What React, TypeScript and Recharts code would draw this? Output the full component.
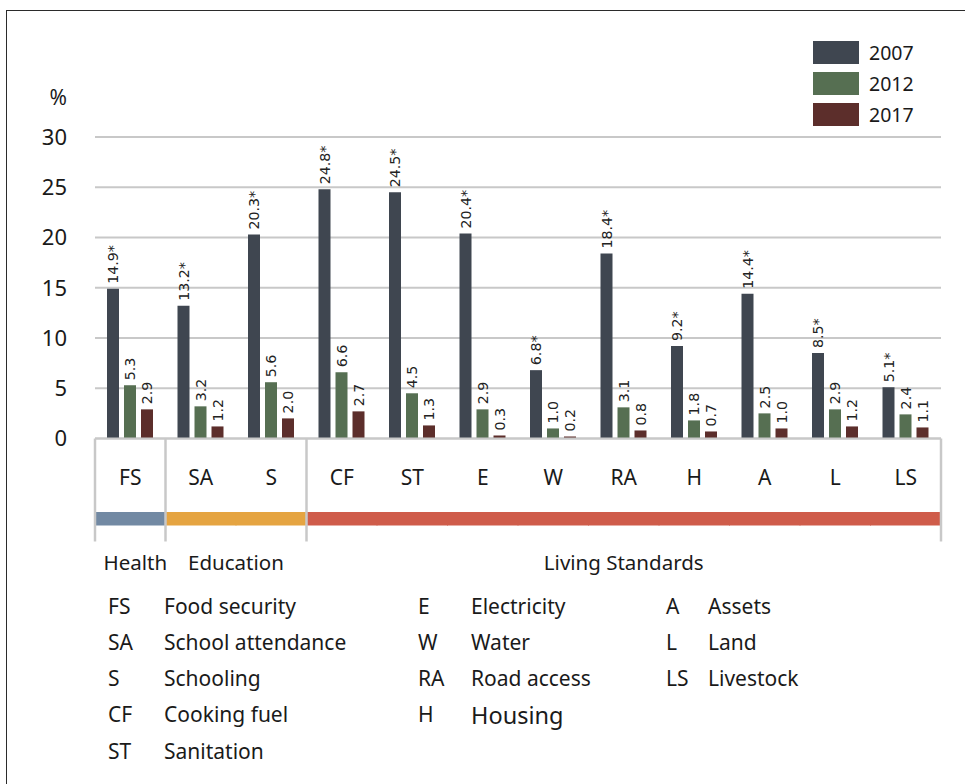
import { Bar, BarChart, CartesianGrid, LabelList, Legend, XAxis, YAxis } from "recharts";

const categories = ["FS", "SA", "S", "CF", "ST", "E", "W", "RA", "H", "A", "L", "LS"];
const categoryNames = [
  "Food security",
  "School attendance",
  "Schooling",
  "Cooking fuel",
  "Sanitation",
  "Electricity",
  "Water",
  "Road access",
  "Housing",
  "Assets",
  "Land",
  "Livestock",
];
const values2007 = [14.9, 13.2, 20.3, 24.8, 24.5, 20.4, 6.8, 18.4, 9.2, 14.4, 8.5, 5.1];
const values2012 = [5.3, 3.2, 5.6, 6.6, 4.5, 2.9, 1.0, 3.1, 1.8, 2.5, 2.9, 2.4];
const values2017 = [2.9, 1.2, 2.0, 2.7, 1.3, 0.3, 0.2, 0.8, 0.7, 1.0, 1.2, 1.1];
const yTicks = [0, 5, 10, 15, 20, 25, 30];
const groupNames = ["Health", "Education", "Living Standards"];
const groupSizes = [1, 2, 9];
// how many abbreviations go in each column of the key under the chart
const keyColumns = [5, 4, 3];

const W = 965;
const H = 784;
const M = { top: 137, right: 24, bottom: 205.5, left: 35 };
const Y_AXIS_W = 60;
const BAND = (W - M.left - M.right - Y_AXIS_W) / categories.length;

const seriesColors = ["#3f4650", "#566f52", "#5c2e2b"];
const groupColors = ["#7289a3", "#e5a441", "#cf5c4a"];
const GRID = "#c8c8c8";
const INK = "#1a1a1a";

const data = categories.map((c, i) => ({
  cat: c,
  y2007: values2007[i],
  y2012: values2012[i],
  y2017: values2017[i],
}));

const groupStarts = groupSizes.map((_, g) => groupSizes.slice(0, g).reduce((a, b) => a + b, 0));
const groupOf = (i: number) => groupStarts.filter((s) => s <= i).length - 1;

function CategoryTick(props: any) {
  const { x, y, payload } = props;
  const i = categories.indexOf(payload.value);
  const g = groupOf(i);
  const left = x - BAND / 2;
  const isStart = groupStarts.includes(i);
  const isLast = i === categories.length - 1;
  return (
    <g>
      <rect x={left - 0.5} y={y + 73.5} width={BAND + 1} height={13.5} fill={groupColors[g]} />
      {isStart && <line x1={left} x2={left} y1={y} y2={y + 103} stroke={GRID} strokeWidth={2.5} />}
      {isLast && (
        <line x1={left + BAND} x2={left + BAND} y1={y} y2={y + 103} stroke={GRID} strokeWidth={2.5} />
      )}
      <text x={x} y={y + 46} textAnchor="middle" fontSize={21} fontFamily="Noto Sans" fill={INK}>
        {payload.value}
      </text>
      {isStart && (
        <text
          x={left + (groupSizes[g] * BAND) / 2 + (g === 0 ? 5 : 0)}
          y={y + 131}
          textAnchor="middle"
          fontSize={20.5}
          fontFamily="Noto Sans"
          fill={INK}
        >
          {groupNames[g]}
        </text>
      )}
    </g>
  );
}

const makeLabel = (suffix: string) => (props: any) => {
  const vb = props.viewBox || {};
  const x = Number(props.x ?? vb.x);
  const y = Number(props.y ?? vb.y);
  const w = Number(props.width ?? vb.width);
  const cx = x + w / 2;
  return (
    <text
      transform={`translate(${cx},${y - 5}) rotate(-90)`}
      dy="0.37em"
      fontSize={14.2}
      fontFamily="DejaVu Sans"
      fill="#222"
    >
      {Number(props.value).toFixed(1)}
      {suffix}
    </text>
  );
};

const renderLegend = (props: any) => (
  <div>
    {(props.payload || []).map((e: any) => (
      <div key={e.value} style={{ display: "flex", alignItems: "center", height: 23, marginBottom: 8 }}>
        <span style={{ display: "inline-block", width: 46, height: 23, background: e.color }} />
        <span style={{ marginLeft: 10, fontSize: 19.5, fontFamily: "Noto Sans", color: INK }}>{e.value}</span>
      </div>
    ))}
  </div>
);

const keyColX = [
  { abbr: 108, name: 164 },
  { abbr: 418, name: 471 },
  { abbr: 666, name: 708 },
];
const KEY_TOP = 607;
const KEY_STEP = 36.2;

function AbbrKey() {
  const items: any[] = [];
  let idx = 0;
  keyColumns.forEach((n, col) => {
    for (let r = 0; r < n; r++, idx++) {
      const cy = KEY_TOP + r * KEY_STEP;
      const big = categoryNames[idx] === "Housing";
      items.push(
        <div key={"a" + idx} style={{ position: "absolute", left: keyColX[col].abbr, top: cy - 11.2, lineHeight: "21px", fontSize: 21 }}>
          {categories[idx]}
        </div>,
        <div
          key={"n" + idx}
          style={{
            position: "absolute",
            left: keyColX[col].name,
            top: big ? cy - 13 : cy - 11.2,
            lineHeight: big ? "24px" : "21px",
            fontSize: big ? 23.5 : 21,
            whiteSpace: "nowrap",
          }}
        >
          {categoryNames[idx]}
        </div>
      );
    }
  });
  return <div style={{ fontFamily: "Noto Sans", color: INK }}>{items}</div>;
}

export default function App() {
  return (
    <div style={{ position: "fixed", left: 0, top: 0, width: W, height: H, overflow: "hidden", background: "#fff" }}>
      <div
        style={{
          position: "absolute",
          left: 6,
          top: 10,
          width: 1000,
          height: 820,
          border: "1.5px solid #2b2b2b",
        }}
      />
      <div style={{ position: "absolute", left: 0, top: 0 }}>
        <BarChart width={W} height={H} data={data} margin={M} barSize={12} barGap={5}>
          <CartesianGrid vertical={false} stroke={GRID} strokeWidth={2} />
          <XAxis
            dataKey="cat"
            interval={0}
            height={140}
            tickSize={0}
            tickMargin={0}
            axisLine={{ stroke: GRID, strokeWidth: 2 }}
            tickLine={false}
            tick={<CategoryTick />}
          />
          <YAxis
            width={Y_AXIS_W}
            domain={[0, 30]}
            ticks={yTicks}
            axisLine={false}
            tickLine={false}
            tickSize={0}
            tickMargin={28}
            tick={{ fontSize: 22, fontFamily: "Noto Sans", fill: INK }}
            label={{
              content: (p: any) => (
                <text
                  x={p.viewBox.x + p.viewBox.width - 28}
                  y={p.viewBox.y - 32}
                  textAnchor="end"
                  fontSize={21}
                  fontFamily="Noto Sans"
                  fill={INK}
                >
                  %
                </text>
              ),
            }}
          />
          <Legend
            layout="vertical"
            align="center"
            verticalAlign="middle"
            content={renderLegend}
            wrapperStyle={{ left: 813, top: 41, width: 140 }}
          />
          <Bar dataKey="y2007" name="2007" fill={seriesColors[0]} isAnimationActive={false}>
            <LabelList dataKey="y2007" content={makeLabel("*")} />
          </Bar>
          <Bar dataKey="y2012" name="2012" fill={seriesColors[1]} isAnimationActive={false}>
            <LabelList dataKey="y2012" content={makeLabel("")} />
          </Bar>
          <Bar dataKey="y2017" name="2017" fill={seriesColors[2]} isAnimationActive={false}>
            <LabelList dataKey="y2017" content={makeLabel("")} />
          </Bar>
        </BarChart>
      </div>
      <AbbrKey />
    </div>
  );
}
